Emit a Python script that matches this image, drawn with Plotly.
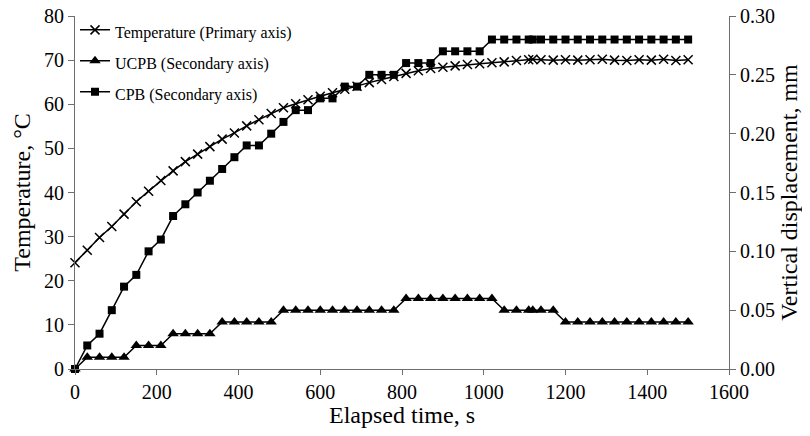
import plotly.graph_objects as go

time_s = [0, 30, 60, 90, 120, 150, 180, 210, 240, 270, 300, 330, 360, 390, 420, 450,
          480, 510, 540, 570, 600, 630, 660, 690, 720, 750, 780, 810, 840, 870, 900,
          930, 960, 990, 1020, 1050, 1080, 1110, 1120, 1140, 1170, 1200, 1230, 1260,
          1290, 1320, 1350, 1380, 1410, 1440, 1470, 1500]

temperature = [24.1, 26.9, 29.8, 32.3, 35.1, 37.9, 40.3, 42.7, 44.9, 47.0, 48.7, 50.4,
               52.1, 53.5, 55.1, 56.5, 57.9, 59.2, 60.1, 61.0, 61.8, 62.6, 63.4, 64.1,
               64.9, 65.6, 66.3, 67.0, 67.6, 68.1, 68.4, 68.7, 69.0, 69.2, 69.4, 69.6,
               69.9, 70.1, 70.2, 70.1, 70.0, 70.1, 70.0, 70.1, 70.2, 70.0, 69.9, 70.1,
               70.0, 70.2, 69.9, 70.1]

ucpb = [0.00, 0.01, 0.01, 0.01, 0.01, 0.02, 0.02, 0.02, 0.03, 0.03, 0.03, 0.03,
        0.04, 0.04, 0.04, 0.04, 0.04, 0.05, 0.05, 0.05, 0.05, 0.05, 0.05, 0.05,
        0.05, 0.05, 0.05, 0.06, 0.06, 0.06, 0.06, 0.06, 0.06, 0.06, 0.06, 0.05,
        0.05, 0.05, 0.05, 0.05, 0.05, 0.04, 0.04, 0.04, 0.04, 0.04, 0.04, 0.04,
        0.04, 0.04, 0.04, 0.04]

cpb = [0.00, 0.02, 0.03, 0.05, 0.07, 0.08, 0.10, 0.11, 0.13, 0.14, 0.15, 0.16,
       0.17, 0.18, 0.19, 0.19, 0.20, 0.21, 0.22, 0.22, 0.23, 0.23, 0.24, 0.24,
       0.25, 0.25, 0.25, 0.26, 0.26, 0.26, 0.27, 0.27, 0.27, 0.27, 0.28, 0.28,
       0.28, 0.28, 0.28, 0.28, 0.28, 0.28, 0.28, 0.28, 0.28, 0.28, 0.28, 0.28,
       0.28, 0.28, 0.28, 0.28]

series_names = ["Temperature (Primary axis)", "UCPB (Secondary axis)", "CPB (Secondary axis)"]

x_tick_vals = [0, 200, 400, 600, 800, 1000, 1200, 1400, 1600]
x_tick_labels = ["0", "200", "400", "600", "800", "1000", "1200", "1400", "1600"]
y_tick_vals = [0, 10, 20, 30, 40, 50, 60, 70, 80]
y_tick_labels = ["0", "10", "20", "30", "40", "50", "60", "70", "80"]
y2_tick_vals = [0.00, 0.05, 0.10, 0.15, 0.20, 0.25, 0.30]
y2_tick_labels = ["0.00", "0.05", "0.10", "0.15", "0.20", "0.25", "0.30"]

FONT = "Times New Roman"
AX = "#6e6e6e"


def serif(s, size=None):
    style = "font-family:'Times New Roman','Liberation Serif',serif"
    if size:
        style += ";font-size:%dpx" % size
    return '<span style="' + style + '">' + s + '</span>'


fig = go.Figure()
fig.add_trace(go.Scatter(
    x=time_s, y=temperature, mode="lines+markers", name=serif(series_names[0], 16),
    line=dict(color="black", width=1.5), cliponaxis=False, legendgroup="a",
    marker=dict(symbol="x-thin", size=9, color="black", line=dict(color="black", width=1.5)),
))
fig.add_trace(go.Scatter(
    x=time_s, y=ucpb, mode="lines+markers", name=serif(series_names[1], 16), yaxis="y2",
    line=dict(color="black", width=1.5), cliponaxis=False, legendgroup="b",
    marker=dict(symbol="triangle-up", size=10, color="black"),
))
fig.add_trace(go.Scatter(
    x=time_s, y=cpb, mode="lines+markers", name=serif(series_names[2], 16), yaxis="y2",
    line=dict(color="black", width=1.5), cliponaxis=False, legendgroup="c",
    marker=dict(symbol="square", size=8, color="black"),
))

fig.update_layout(
    template="none",
    width=794, height=420,
    margin=dict(l=67, r=73, t=8, b=59, autoexpand=False),
    paper_bgcolor="white", plot_bgcolor="white",
    font=dict(family=FONT, size=20, color="black"),
    showlegend=True,
    legend=dict(x=0.0, y=1.016, xanchor="left", yanchor="top", bgcolor="rgba(0,0,0,0)",
                traceorder="grouped", tracegroupgap=2, itemwidth=30),
    xaxis=dict(range=[0, 1600], tickmode="array", tickvals=x_tick_vals,
               ticktext=[serif(t) for t in x_tick_labels],
               showgrid=False, zeroline=False,
               showline=True, linecolor=AX, linewidth=1, ticks="outside", ticklen=5,
               tickcolor=AX, title=dict(text="Elapsed time, s", standoff=0),
               automargin=False, ticklabeloverflow="allow"),
    yaxis=dict(range=[0, 80], tickmode="array", tickvals=y_tick_vals,
               ticktext=[serif(t) for t in y_tick_labels],
               showgrid=False, zeroline=False,
               showline=True, linecolor=AX, linewidth=1, ticks="outside", ticklen=6,
               tickcolor=AX, title=dict(text="Temperature, °C", standoff=6),
               automargin=False, ticklabeloverflow="allow"),
    yaxis2=dict(range=[0, 0.30], tickmode="array", tickvals=y2_tick_vals,
                ticktext=[serif(t) for t in y2_tick_labels], overlaying="y",
                side="right", showgrid=False, zeroline=False, showline=True,
                linecolor=AX, linewidth=1, ticks="outside", ticklen=6, tickcolor=AX,
                title=dict(text="Vertical displacement, mm", standoff=8),
                automargin=False, ticklabeloverflow="allow"),
)

fig.write_html("out.html")
